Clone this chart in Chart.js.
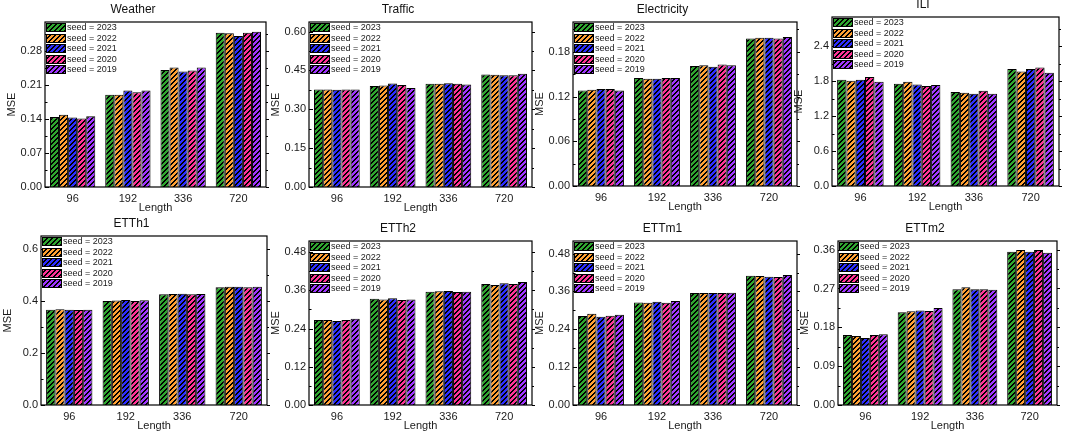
<!DOCTYPE html>
<html>
<head>
<meta charset="utf-8">
<script src="https://cdn.jsdelivr.net/npm/chart.js@4.4.1/dist/chart.umd.min.js"></script>
<style>
html,body{margin:0;padding:0;background:#fff;}
#wrap{position:relative;width:1065px;height:436px;overflow:hidden;background:#fff;}
#wrap canvas{position:absolute;}
</style>
</head>
<body>
<div id="wrap"></div>
<script>
// ---------- data ----------
const lengths = ['96', '192', '336', '720'];
const seeds = ['seed = 2023', 'seed = 2022', 'seed = 2021', 'seed = 2020', 'seed = 2019'];
const seedColors = ['#2FA52F', '#FFA033', '#2E2EFF', '#FF3396', '#A036FF'];

// rows: seeds (2023..2019), columns: lengths
const weatherMSE = [
  [0.144, 0.190, 0.241, 0.318],
  [0.149, 0.190, 0.246, 0.317],
  [0.143, 0.199, 0.238, 0.311],
  [0.141, 0.195, 0.240, 0.318],
  [0.146, 0.199, 0.246, 0.320]
];
const trafficMSE = [
  [0.376, 0.390, 0.399, 0.434],
  [0.376, 0.392, 0.399, 0.433],
  [0.375, 0.400, 0.401, 0.431],
  [0.376, 0.394, 0.399, 0.431],
  [0.376, 0.382, 0.396, 0.437]
];
const electricityMSE = [
  [0.128, 0.145, 0.161, 0.198],
  [0.129, 0.144, 0.162, 0.199],
  [0.130, 0.144, 0.160, 0.199],
  [0.130, 0.145, 0.163, 0.198],
  [0.128, 0.145, 0.162, 0.200]
];
const iliMSE = [
  [1.822, 1.754, 1.611, 2.006],
  [1.805, 1.788, 1.599, 1.965],
  [1.822, 1.742, 1.582, 2.006],
  [1.869, 1.714, 1.633, 2.034],
  [1.788, 1.731, 1.582, 1.943]
];
const etth1MSE = [
  [0.366, 0.400, 0.426, 0.453],
  [0.368, 0.402, 0.427, 0.455],
  [0.366, 0.404, 0.428, 0.455],
  [0.365, 0.400, 0.426, 0.453],
  [0.366, 0.403, 0.427, 0.455]
];
const etth2MSE = [
  [0.267, 0.334, 0.356, 0.380],
  [0.267, 0.331, 0.357, 0.377],
  [0.264, 0.335, 0.358, 0.382],
  [0.267, 0.330, 0.355, 0.380],
  [0.271, 0.331, 0.356, 0.386]
];
const ettm1MSE = [
  [0.282, 0.325, 0.355, 0.410],
  [0.289, 0.324, 0.355, 0.409],
  [0.280, 0.327, 0.355, 0.407],
  [0.283, 0.324, 0.355, 0.406],
  [0.286, 0.330, 0.356, 0.412]
];
const ettm2MSE = [
  [0.162, 0.215, 0.268, 0.355],
  [0.160, 0.217, 0.273, 0.359],
  [0.155, 0.219, 0.268, 0.355],
  [0.162, 0.218, 0.268, 0.359],
  [0.164, 0.225, 0.267, 0.353]
];

// y tick labels
const weatherTicks = ['0.00', '0.07', '0.14', '0.21', '0.28'];
const trafficTicks = ['0.00', '0.15', '0.30', '0.45', '0.60'];
const electricityTicks = ['0.00', '0.06', '0.12', '0.18'];
const iliTicks = ['0.0', '0.6', '1.2', '1.8', '2.4'];
const etth1Ticks = ['0.0', '0.2', '0.4', '0.6'];
const etth2Ticks = ['0.00', '0.12', '0.24', '0.36', '0.48'];
const ettm1Ticks = ['0.00', '0.12', '0.24', '0.36', '0.48'];
const ettm2Ticks = ['0.00', '0.09', '0.18', '0.27', '0.36'];

// ---------- panels (built from the arrays above) ----------
// box: plot-area [left, top, right, bottom] in page pixels
const panels = [
  {title: 'Weather', data: weatherMSE, ticks: weatherTicks, max: 0.34, box: [45, 22, 266, 187]},
  {title: 'Traffic', data: trafficMSE, ticks: trafficTicks, max: 0.637, box: [309, 22, 532, 187]},
  {title: 'Electricity', data: electricityMSE, ticks: electricityTicks, max: 0.22, box: [573, 22, 797, 186]},
  {title: 'ILI', data: iliMSE, ticks: iliTicks, max: 2.9, box: [832, 17, 1059, 186]},
  {title: 'ETTh1', data: etth1MSE, ticks: etth1Ticks, max: 0.65, box: [41, 236, 267, 405]},
  {title: 'ETTh2', data: etth2MSE, ticks: etth2Ticks, max: 0.515, box: [309, 241, 532, 405]},
  {title: 'ETTm1', data: ettm1MSE, ticks: ettm1Ticks, max: 0.52, box: [573, 241, 797, 405]},
  {title: 'ETTm2', data: ettm2MSE, ticks: ettm2Ticks, max: 0.38, box: [838, 241, 1057, 405]}
];

Chart.defaults.font.family = "'Liberation Sans', Arial, Helvetica, sans-serif";
Chart.defaults.color = '#1a1a1a';

// crisp pixel hatch (////) on a coloured ground
function hatch(ctx, color) {
  const n = 5;
  const c = document.createElement('canvas');
  c.width = n; c.height = n;
  const g = c.getContext('2d');
  g.fillStyle = color;
  g.fillRect(0, 0, n, n);
  g.fillStyle = '#000';
  for (let y = 0; y < n; y++) {
    g.fillRect((n - 1 - y + n) % n, y, 1, 1);
    g.fillRect((n - y + n) % n, y, 1, 1);
  }
  return ctx.createPattern(c, 'repeat');
}

const framePlugin = {
  id: 'frame',
  afterDatasetsDraw(chart) {
    const {ctx, chartArea: a} = chart;
    const ys = chart.scales.y;
    ctx.save();
    ctx.strokeStyle = '#000';
    ctx.lineWidth = 1.2;
    ctx.strokeRect(a.left, a.top, a.right - a.left, a.bottom - a.top);
    const vals = ys.ticks.map(t => t.value);
    const step = vals.length > 1 ? vals[1] - vals[0] : 0;
    ctx.lineWidth = 1;
    ctx.beginPath();
    vals.forEach(v => {
      const py = Math.round(ys.getPixelForValue(v)) + 0.5;
      ctx.moveTo(a.left, py); ctx.lineTo(a.left + 4, py);
      ctx.moveTo(a.right, py); ctx.lineTo(a.right + 3, py);
    });
    const minors = [];
    for (let v = step / 2; v < ys.max; v += step) minors.push(v);
    minors.forEach(v => {
      const py = Math.round(ys.getPixelForValue(v)) + 0.5;
      ctx.moveTo(a.left, py); ctx.lineTo(a.left + 2.5, py);
      ctx.moveTo(a.right, py); ctx.lineTo(a.right + 2, py);
    });
    ctx.stroke();
    // legend inside plot area (top-left)
    ctx.font = "9px 'Liberation Sans', Arial, sans-serif";
    ctx.textBaseline = 'middle';
    ctx.textAlign = 'left';
    chart.data.datasets.forEach((ds, i) => {
      const x = a.left + 1, y = Math.round(a.top + 1 + i * 10.6);
      ctx.fillStyle = ds.backgroundColor;
      ctx.fillRect(x, y, 20, 9);
      ctx.strokeStyle = '#000';
      ctx.lineWidth = 1;
      ctx.strokeRect(x + 0.5, y + 0.5, 19, 8);
      ctx.fillStyle = '#1a1a1a';
      ctx.fillText(ds.label, a.left + 22, y + 4.8);
    });
    ctx.restore();
  }
};

const wrap = document.getElementById('wrap');
panels.forEach(p => {
  const [l, t, r, b] = p.box;
  const W = (r - l) + 90, H = (b - t) + 22 + 31;
  const cv = document.createElement('canvas');
  cv.width = W; cv.height = H;
  cv.style.left = (l - 45) + 'px';
  cv.style.top = (t - 22) + 'px';
  cv.style.width = W + 'px';
  cv.style.height = H + 'px';
  wrap.appendChild(cv);
  const cctx = cv.getContext('2d');
  const tickVals = p.ticks.map(s => parseFloat(s));
  new Chart(cv, {
    type: 'bar',
    data: {
      labels: lengths,
      datasets: seeds.map((s, i) => ({
        label: s,
        data: p.data[i],
        backgroundColor: hatch(cctx, seedColors[i]),
        borderColor: '#000',
        borderWidth: 1,
        categoryPercentage: 0.82,
        barPercentage: 1.0
      }))
    },
    options: {
      responsive: false,
      animation: false,
      devicePixelRatio: 1,
      layout: {padding: {left: 0, right: 45, top: 0, bottom: 0}},
      plugins: {
        legend: {display: false},
        tooltip: {enabled: false},
        title: {
          display: true, text: p.title, color: '#111',
          font: {size: 12, weight: 'normal', lineHeight: 1.25},
          padding: {top: 2, bottom: 5}
        }
      },
      scales: {
        x: {
          type: 'category',
          offset: true,
          grid: {display: false, drawTicks: false},
          border: {display: false},
          ticks: {font: {size: 11}, padding: 5, color: '#1a1a1a', maxRotation: 0},
          title: {display: true, text: 'Length', font: {size: 11, lineHeight: 1.2}, color: '#1a1a1a', padding: {top: 0, bottom: 3}},
          afterFit: s => { s.height = 31; }
        },
        y: {
          type: 'linear',
          min: 0, max: p.max,
          grid: {display: false, drawTicks: false},
          border: {display: false},
          afterBuildTicks: s => { s.ticks = tickVals.map(v => ({value: v})); },
          ticks: {font: {size: 11}, padding: 3, color: '#1a1a1a', callback: (v, i) => p.ticks[i]},
          title: {display: true, text: 'MSE', font: {size: 11, lineHeight: 1.2}, color: '#1a1a1a', padding: {top: 5, bottom: 0}},
          afterFit: s => { s.width = 45; }
        }
      }
    },
    plugins: [framePlugin]
  });
});
</script>
</body>
</html>
